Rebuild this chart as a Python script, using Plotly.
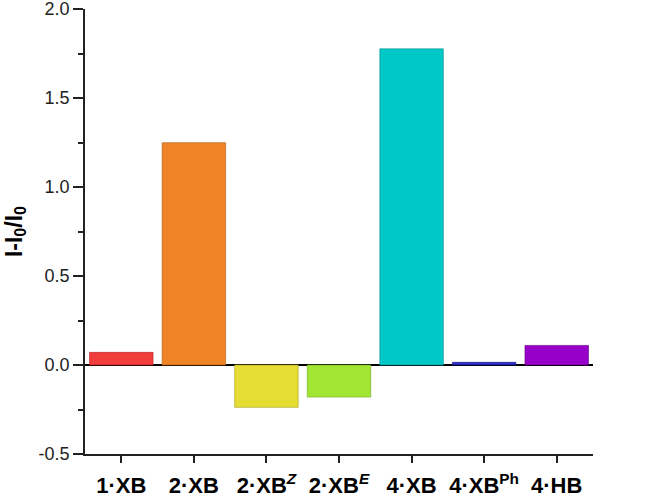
import plotly.graph_objects as go

# data
labels = [
    "<b>1·XB</b>",
    "<b>2·XB</b>",
    "<b>2·XB<sup><i>Z</i></sup></b>",
    "<b>2·XB<sup><i>E</i></sup></b>",
    "<b>4·XB</b>",
    "<b>4·XB<sup>Ph</sup></b>",
    "<b>4·HB</b>",
]
values = [0.071, 1.249, -0.238, -0.18, 1.776, 0.015, 0.11]
colors = ["#F23D3D", "#EF8427", "#E5DC34", "#A2E634", "#00C8C8", "#2A2ECF", "#9600C8"]
edges = ["#B02020", "#B05A10", "#A89E20", "#70A820", "#008C8C", "#101070", "#600080"]
y_ticks = [-0.5, 0.0, 0.5, 1.0, 1.5, 2.0]
y_ticktext = ["-0.5", "0.0", "0.5", "1.0", "1.5", "2.0"]

fig = go.Figure(go.Bar(
    x=list(range(len(labels))),
    y=values,
    width=0.875,
    marker=dict(color=colors, line=dict(color=edges, width=0.6)),
))

fig.update_layout(
    width=645, height=504,
    margin=dict(l=85, r=52, t=9, b=50),
    paper_bgcolor="white", plot_bgcolor="white",
    font=dict(family="Liberation Sans, Arial", color="black"),
    showlegend=False,
)
fig.update_xaxes(
    range=[-0.5, 6.5], automargin=False,
    tickvals=list(range(len(labels))), ticktext=labels,
    tickfont=dict(size=22), ticklabelstandoff=4,
    showline=True, linecolor="#222", linewidth=1.5,
    ticks="outside", ticklen=7, tickcolor="#222", tickwidth=1.5,
    showgrid=False, zeroline=False,
)
fig.update_yaxes(
    range=[-0.5, 2.0], automargin=False, ticklabeloverflow="allow",
    tickvals=y_ticks, ticktext=y_ticktext,
    tickfont=dict(size=18, color="#222"),
    showline=True, linecolor="#222", linewidth=1.5,
    ticks="outside", ticklen=10, tickcolor="#222", tickwidth=1.5,
    minor=dict(dtick=0.25, tick0=0, ticks="outside", ticklen=5, tickcolor="#222", tickwidth=1.5, showgrid=False),
    showgrid=False,
    zeroline=True, zerolinecolor="black", zerolinewidth=1.5,
    title=dict(text="<b>I-I<sub>0</sub>/I<sub>0</sub></b>", font=dict(size=23), standoff=10),
)

# drop the default page margin so the figure sits at the window's corner
fig.write_html(
    "out.html",
    config={"displayModeBar": False},
    post_script="document.body.style.margin='0';",
)
